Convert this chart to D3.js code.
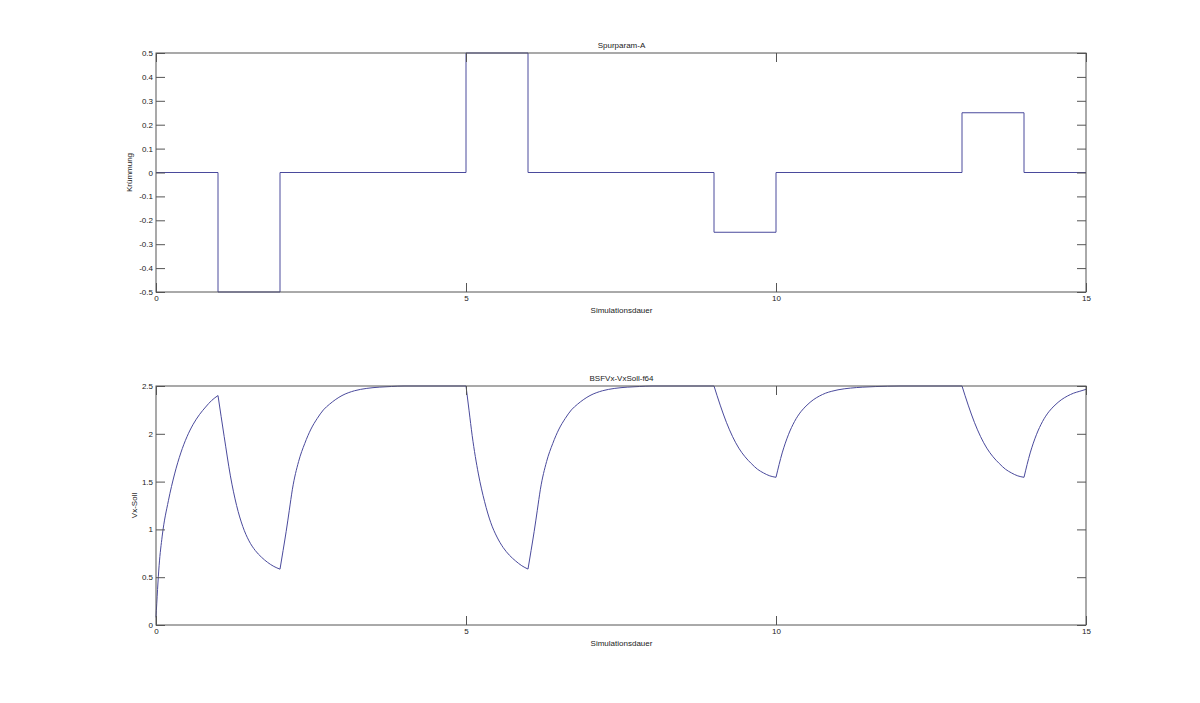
<!DOCTYPE html>
<html><head><meta charset="utf-8">
<script src="https://cdn.jsdelivr.net/npm/d3@7"></script>
<style>
html,body{margin:0;padding:0;background:#fff;}
svg text{font-family:"Liberation Sans",Arial,sans-serif;font-size:8px;fill:#222;}
</style></head>
<body>
<svg id="chart" width="1200" height="703"></svg>
<script>
// ---- data ----
const stepTime = [0, 1, 2, 5, 6, 9, 10, 13, 14, 15];
const kruemmung = [0, -0.5, 0, 0.5, 0, -0.25, 0, 0.25, 0, 0];

const timeVx = [0,0.05,0.1,0.2,0.3,0.4,0.5,0.6,0.7,0.8,0.9,1.0,
  1.1,1.2,1.3,1.4,1.5,1.6,1.7,1.8,1.9,2.0,
  2.05,2.1,2.15,2.2,2.3,2.4,2.5,2.6,2.7,2.8,2.9,3.0,3.2,3.4,3.6,3.8,4.0,5.0,
  5.05,5.1,5.2,5.3,5.4,5.5,5.6,5.7,5.8,5.9,6.0,
  6.05,6.1,6.15,6.2,6.3,6.4,6.5,6.6,6.7,6.8,6.9,7.0,7.2,7.4,7.6,7.8,8.0,9.0,
  9.1,9.2,9.3,9.4,9.5,9.6,9.7,9.8,9.9,10.0,
  10.1,10.2,10.3,10.4,10.5,10.6,10.7,10.8,10.9,11.0,11.2,11.4,11.6,11.8,12.0,13.0,
  13.1,13.2,13.3,13.4,13.5,13.6,13.7,13.8,13.9,14.0,
  14.1,14.2,14.3,14.4,14.5,14.6,14.7,14.8,14.9,15.0];
const vxSoll = [0.08,0.62,0.93,1.3,1.58,1.8,1.97,2.1,2.2,2.28,2.35,2.4,
  1.97,1.56,1.25,1.03,0.88,0.78,0.71,0.655,0.613,0.584,
  0.78,0.98,1.2,1.42,1.71,1.9,2.05,2.16,2.25,2.31,2.36,2.4,2.45,2.475,2.488,2.495,2.5,2.5,
  2.24,1.98,1.58,1.29,1.07,0.92,0.81,0.73,0.67,0.62,0.585,
  0.78,0.98,1.2,1.42,1.71,1.9,2.05,2.16,2.25,2.31,2.36,2.4,2.45,2.475,2.488,2.495,2.5,2.5,
  2.3,2.12,1.97,1.85,1.76,1.69,1.63,1.59,1.56,1.545,
  1.8,1.99,2.13,2.23,2.3,2.355,2.395,2.425,2.445,2.46,2.478,2.488,2.494,2.498,2.5,2.5,
  2.3,2.12,1.97,1.85,1.76,1.69,1.63,1.59,1.56,1.545,
  1.8,1.99,2.13,2.23,2.3,2.355,2.395,2.425,2.445,2.465];

const xTicks = [0, 5, 10, 15];
const yTicksTop = [-0.5,-0.4,-0.3,-0.2,-0.1,0,0.1,0.2,0.3,0.4,0.5];
const yTicksBottom = [0,0.5,1,1.5,2,2.5];

// ---- layout ----
const svg = d3.select("#chart");
const L = 156, R = 1086;
const lineColor = "#4a4a9c";
const boxColor = "#555";
const fmt = d => String(+d.toFixed(1));

function panel(top, bottom, yDomain, yTicks, title, ylab, ylabX, xs, ys, mode) {
  const x = d3.scaleLinear().domain([0, 15]).range([L, R]);
  const y = d3.scaleLinear().domain(yDomain).range([bottom, top]);
  const g = svg.append("g");

  const styleAxis = sel => {
    sel.select(".domain").remove();
    sel.selectAll(".tick line").attr("stroke", boxColor);
    sel.selectAll("text").attr("fill", "#222").style("font-size", "8px")
      .style("font-family", "Liberation Sans, Arial, sans-serif");
  };

  const pts = xs.map((t, i) => [t, ys[i]]);
  if (mode === "step") {
    g.append("path").datum(pts)
      .attr("fill", "none").attr("stroke", lineColor).attr("stroke-width", 1)
      .attr("d", d3.line().x(d => x(d[0])).y(d => y(d[1])).curve(d3.curveStepAfter));
  } else {
    // split at the switching times of the curvature signal; smooth monotone pieces
    for (let k = 0; k < stepTime.length - 1; k++) {
      const a = stepTime[k], b = stepTime[k + 1];
      const seg = pts.filter(p => p[0] >= a - 1e-9 && p[0] <= b + 1e-9);
      if (seg.length < 2) continue;
      g.append("path").datum(seg)
        .attr("fill", "none").attr("stroke", lineColor).attr("stroke-width", 1)
        .attr("d", d3.line().x(d => x(d[0])).y(d => y(d[1])).curve(d3.curveMonotoneX));
    }
  }

  g.append("g").attr("transform", `translate(0,${bottom})`)
    .call(d3.axisBottom(x).tickValues(xTicks).tickSize(-9).tickPadding(3).tickFormat(fmt))
    .call(styleAxis);
  g.append("g").attr("transform", `translate(0,${top})`)
    .call(d3.axisTop(x).tickValues(xTicks).tickSize(-9).tickFormat(""))
    .call(styleAxis);
  g.append("g").attr("transform", `translate(${L},0)`)
    .call(d3.axisLeft(y).tickValues(yTicks).tickSize(-9).tickPadding(3).tickFormat(fmt))
    .call(styleAxis);
  g.append("g").attr("transform", `translate(${R},0)`)
    .call(d3.axisRight(y).tickValues(yTicks).tickSize(-9).tickFormat(""))
    .call(styleAxis);

  g.append("rect").attr("x", L).attr("y", top).attr("width", R - L).attr("height", bottom - top)
    .attr("fill", "none").attr("stroke", boxColor).attr("stroke-width", 1);

  g.append("text").attr("x", (L + R) / 2 + 0.5).attr("y", top - 5)
    .attr("text-anchor", "middle").text(title);
  g.append("text").attr("x", (L + R) / 2 + 0.5).attr("y", bottom + 21)
    .attr("text-anchor", "middle").text("Simulationsdauer");
  g.append("text").attr("transform", `translate(${ylabX},${(top + bottom) / 2}) rotate(-90)`)
    .attr("text-anchor", "middle").text(ylab);
}

panel(53, 292, [-0.5, 0.5], yTicksTop, "Spurparam-A", "Krümmung", 132,
  stepTime, kruemmung, "step");
panel(386, 625, [0, 2.5], yTicksBottom, "BSFVx-VxSoll-f64", "Vx-Soll", 136.5,
  timeVx, vxSoll, "smooth");
</script>
</body></html>
